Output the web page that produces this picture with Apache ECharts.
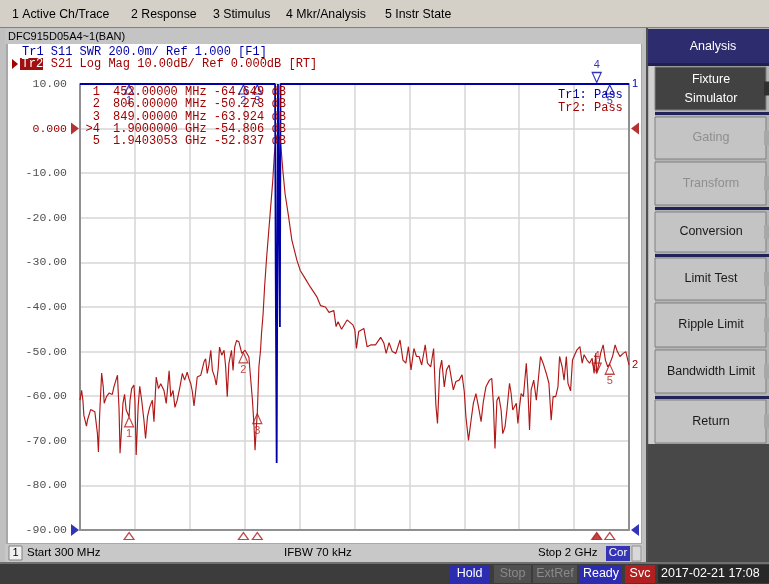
<!DOCTYPE html>
<html><head><meta charset="utf-8">
<script src="https://cdn.jsdelivr.net/npm/echarts/dist/echarts.min.js"></script>
<style>html,body{margin:0;padding:0;background:#d4d0c8;overflow:hidden}#c{width:769px;height:584px}</style>
</head><body><div id="c"></div>
<script>
// ---------------- DATA ----------------
const startMHz = 300, stopMHz = 2000, divMHz = 170;
const freqMHz = [300,305,309,312,320,323,333,346,354,357,361,367,372,375,382,390,400,405,416,421,424,429,433,438,443,452,455,460,467,470,474,480,485,491,498,503,509,516,524,529,536,543,550,560,567,576,581,588,594,601,609,617,624,632,637,643,648,653,658,663,674,684,689,694,699,705,710,717,722,728,732,739,746,751,756,761,769,774,779,785,792,801,806,811,816,823,828,834,839,842,846,849,854,859,862,867,872,878,888,897,902,907,912,916,920,923,928,935,946,956,972,982,998,1013,1034,1045,1050,1060,1071,1086,1093,1099,1110,1127,1145,1151,1156,1163,1179,1189,1200,1215,1231,1241,1248,1257,1267,1278,1291,1300,1309,1317,1325,1334,1342,1350,1358,1369,1376,1386,1395,1402,1407,1414,1420,1428,1435,1443,1449,1456,1464,1474,1483,1490,1495,1503,1511,1518,1526,1534,1542,1549,1557,1568,1575,1580,1585,1591,1597,1604,1609,1616,1622,1630,1635,1640,1645,1651,1656,1661,1666,1673,1682,1687,1692,1697,1705,1713,1726,1734,1744,1752,1759,1765,1773,1780,1785,1793,1799,1806,1811,1819,1825,1832,1839,1848,1855,1861,1870,1878,1886,1892,1897,1900,1907,1912,1920,1927,1934,1940,1949,1957,1964,1972,1982,1990,2000];
const s21dB = [-60.9,-58.7,-60.9,-64.3,-66.7,-65.4,-63.0,-63.5,-68.4,-72.5,-63.9,-54.8,-57.9,-61.6,-60.1,-59.3,-59.6,-57.9,-55.3,-63.1,-72.8,-66.9,-61.6,-59.6,-63.1,-64.6,-60.9,-58.3,-57.5,-60.9,-73.2,-62.4,-57.8,-60.9,-65.4,-69.5,-64.6,-62.4,-60.9,-65.7,-55.7,-58.3,-57.2,-58.7,-61.6,-54.3,-60.1,-58.7,-62.5,-60.9,-58.1,-54.9,-56.4,-54.6,-56.0,-57.2,-59.0,-62.2,-59.0,-55.7,-55.3,-52.3,-51.6,-54.9,-53.1,-49.7,-54.2,-55.7,-57.5,-53.8,-49.0,-50.8,-49.7,-53.4,-60.1,-52.7,-49.7,-54.2,-49.0,-47.5,-47.8,-50.4,-50.3,-49.7,-49.3,-51.2,-55.7,-60.9,-66.9,-72.1,-66.9,-63.9,-53.4,-49.7,-46.0,-41.5,-35.0,-28.8,-19.8,-11.6,-5.6,-2.5,-1.2,-1.0,-2.5,-4.8,-9.3,-14.6,-19.8,-25.0,-29.6,-31.8,-33.7,-35.5,-37.8,-39.7,-39.3,-40.0,-41.2,-40.8,-44.4,-43.3,-45.0,-42.9,-44.0,-45.1,-49.3,-45.5,-44.8,-48.9,-48.5,-48.5,-46.8,-48.1,-50.4,-48.0,-50.0,-50.4,-47.4,-51.9,-52.6,-48.9,-54.1,-49.3,-51.1,-51.1,-53.0,-48.5,-52.6,-53.4,-49.3,-62.0,-66.1,-54.1,-51.9,-57.9,-54.1,-53.0,-55.6,-58.6,-56.7,-56.4,-55.2,-59.0,-64.6,-69.9,-65.4,-61.6,-59.4,-62.4,-65.7,-61.2,-57.9,-56.4,-56.0,-61.6,-71.7,-60.9,-60.1,-63.1,-68.4,-66.9,-63.1,-57.1,-59.4,-63.1,-62.7,-61.6,-66.1,-62.4,-59.4,-60.1,-52.6,-58.6,-67.6,-58.6,-56.4,-60.9,-51.1,-52.6,-54.9,-57.1,-65.4,-60.1,-60.1,-57.9,-51.1,-53.4,-56.4,-51.1,-57.1,-58.8,-51.9,-50.7,-49.6,-48.9,-52.6,-50.7,-51.9,-52.6,-51.5,-54.9,-50.4,-54.8,-52.6,-50.4,-48.5,-51.9,-53.4,-52.8,-51.1,-48.5,-50.0,-51.1,-50.4,-50.0,-53.0];
// S11 SWR trace (values at 3.000 are at/above the top of the 1.000..3.000 scale)
const swrFreqMHz = [300,904,906,909,913,918,919,921,2000];
const s11SWR = [3.0,3.0,2.15,1.30,3.0,3.0,1.91,3.0,3.0];
// markers
const markerNo = [1,2,3,4,5];
const markerFreqMHz = [452, 806, 849, 1900, 1940.3053];
const markerS21dB = [-64.649, -50.273, -63.924, -54.806, -52.837];
const activeMarker = 4;
// dB axis ticks
const dbMin = -90, dbMax = 10, dbStep = 10;
const swrMin = 1.0, swrMax = 3.0, swrStep = 0.2;
// texts
const menuItems = ['1 Active Ch/Trace','2 Response','3 Stimulus','4 Mkr/Analysis','5 Instr State'];
const windowTitle = 'DFC915D05A4~1(BAN)';
const tr1Header = 'Tr1 S11 SWR 200.0m/ Ref 1.000 [F1]';
const tr2Name = 'Tr2';
const tr2Header = ' S21 Log Mag 10.00dB/ Ref 0.000dB [RT]';
const limitTexts = ['Tr1: Pass','Tr2: Pass'];
const statusTexts = ['1','Start 300 MHz','IFBW 70 kHz','Stop 2 GHz','Cor'];
const softkeyTitle = 'Analysis';
const softkeys = [['Fixture','Simulator'],['Gating'],['Transform'],['Conversion'],['Limit Test'],['Ripple Limit'],['Bandwidth Limit'],['Return']];
const bottomItems = ['Hold','Stop','ExtRef','Ready','Svc','2017-02-21 17:08'];

// ---------------- LAYOUT / STYLE ----------------
const MONO = "'Liberation Mono','DejaVu Sans Mono',monospace";
const SANS = "'Liberation Sans','DejaVu Sans',sans-serif";
const RED = '#a00000', TRED = '#b01818', BLUE = '#0000a8';
const GRID = {left:80, top:84, width:549, height:446};

const g = [];
function rect(x,y,w,h,fill,z,stroke){g.push({type:'rect',shape:{x,y,width:w,height:h},style:{fill,stroke:stroke||null,lineWidth:stroke?1:0},z:z===undefined?-10:z,silent:true});}
function text(t,x,y,opt){opt=opt||{};g.push({type:'text',x,y,z:opt.z===undefined?50:opt.z,silent:true,style:{text:t,fill:opt.c||'#000',fontSize:opt.s||12,fontFamily:opt.f||SANS,align:opt.a||'left',verticalAlign:'middle'}});}

// menu bar
rect(0,0,769,27,'#d4d0c8');
rect(0,27,769,1,'#808080');
const menuX=[12,131,213,286,385];
menuItems.forEach((m,i)=>text(m,menuX[i],15,{s:12.3,c:'#000'}));
// chart window frame
rect(0,28,646,536,'#c0c0c0');
rect(646,28,2,536,'#505050');
rect(5,29,638,15,'#c4c4c4');
text(windowTitle,8,37,{s:11,c:'#000'});
rect(6,44,636,500,'#a8a8a8');
rect(8,44,633,499,'#ffffff');
// status bar
rect(5,544,638,18,'#c8c8c8');
rect(9,546,13,14,'#f0f0f0',-9,'#808080');
text(statusTexts[0],15.5,553,{s:11,a:'center'});
text(statusTexts[1],27,553,{s:11.5});
text(statusTexts[2],284,553,{s:11.5});
text(statusTexts[3],538,553,{s:11.5});
rect(606,546,24,15,'#3434b4',-9);
text(statusTexts[4],618,553,{s:11.5,c:'#fff',a:'center'});
rect(632,546,9,15,'#d8d8d8',-9,'#909090');
// header texts
text(tr1Header,22,52,{f:MONO,s:12,c:BLUE});
g.push({type:'polygon',shape:{points:[[12,59],[18,64],[12,69]]},style:{fill:RED},z:50,silent:true});
rect(20,58,23,12,'#a01010',49);
text(tr2Name,21.5,64,{f:MONO,s:12,c:'#fff'});
text(tr2Header,43.6,64,{f:MONO,s:12,c:RED});
// marker table
markerNo.forEach((n,i)=>{
  const y=92+i*12.3;
  const f=markerFreqMHz[i];
  const fs = f>=1000 ? (f/1000).toFixed(7)+' GHz' : f.toFixed(5)+' MHz';
  text((n===activeMarker?'>':'')+n,100,y,{f:MONO,s:12,c:RED,a:'right',z:40});
  text(fs+' '+markerS21dB[i].toFixed(3)+' dB',113,y,{f:MONO,s:12,c:RED,z:40});
});
text(limitTexts[0],558,95,{f:MONO,s:12,c:BLUE});
text(limitTexts[1],558,108,{f:MONO,s:12,c:RED});
// right panel
rect(648,28,121,536,'#b4b4b4');
rect(648,29,121,34,'#2c2c6e');
text(softkeyTitle,713,47,{s:12.5,c:'#fff',a:'center'});
rect(648,63,121,3,'#202050');
rect(649,66,6,378,'#d0d0d0');
rect(648,444,121,120,'#484848');
const keyY=[67,117,162,212,258,303,350,400], keyH=[43,42,43,40,42,44,43,43];
const keyState=['active','dis','dis','en','en','en','en','en'];
const navyLines=[112,207,254,396];
navyLines.forEach(y=>rect(655,y,114,3,'#22225a'));
softkeys.forEach((k,i)=>{
  const st=keyState[i];
  const bg = st==='active'?'#424242':'#c4c4c4';
  rect(655,keyY[i],111,keyH[i],bg,-9,'#808080');
  rect(764,keyY[i]+keyH[i]/2-7,5,14,st==='active'?'#303030':'#a8a8a8',-8);
  const c = st==='active'?'#ffffff':(st==='dis'?'#8e8e8e':'#1a1a1a');
  const cy=keyY[i]+keyH[i]/2;
  if(k.length===2){text(k[0],711,cy-9,{s:12.5,c,a:'center'});text(k[1],711,cy+10,{s:12.5,c,a:'center'});}
  else text(k[0],711,cy,{s:12.5,c,a:'center'});
});
// bottom bar
rect(0,562,769,2,'#707070');
rect(0,564,769,20,'#3c3c3c');
const bx=[449,494,533,580,625,658], bw=[41,37,44,42,30,111];
const bbg=['#2c2cb0','#505050','#505050','#2c2cb0','#b02020','#282828'];
const bfc=['#fff','#8a8a8a','#8a8a8a','#fff','#fff','#fff'];
bottomItems.forEach((t,i)=>{
  rect(bx[i],565,bw[i],18,bbg[i],-9);
  if(i===5) text(t,661,574,{s:12.5,c:bfc[i]});
  else text(t,bx[i]+bw[i]/2,574,{s:12.5,c:bfc[i],a:'center'});
});

// ---------------- SERIES ----------------
const off = f => f - startMHz;
const s21Data = freqMHz.map((f,i)=>[off(f), s21dB[i]]);
const s11Data = swrFreqMHz.map((f,i)=>[off(f), s11SWR[i]]);
const mk = (i,y)=>({value:[off(markerFreqMHz[i]), y], name:String(markerNo[i])});
const tr2Normal = markerNo.map((n,i)=>n!==activeMarker?mk(i,markerS21dB[i]):null).filter(Boolean);
const tr2Active = markerNo.map((n,i)=>n===activeMarker?mk(i,markerS21dB[i]):null).filter(Boolean);
const tr1Normal = markerNo.map((n,i)=>n!==activeMarker?mk(i,swrMax):null).filter(Boolean);
const tr1Active = markerNo.map((n,i)=>n===activeMarker?mk(i,swrMax):null).filter(Boolean);
const axisMk = markerNo.map((n,i)=>({value:[off(markerFreqMHz[i]), dbMin], itemStyle:{color: n===activeMarker?TRED:'#ffffff'}}));
const lblNum = (c,pos)=>({show:true,formatter:'{b}',position:pos,distance:1,color:c,fontSize:11,fontFamily:SANS});

const option = {
  animation:false,
  backgroundColor:'transparent',
  graphic:{elements:g},
  grid:{left:GRID.left,top:GRID.top,width:GRID.width,height:GRID.height,containLabel:false},
  xAxis:{type:'value',min:0,max:stopMHz-startMHz,interval:divMHz,
    axisLabel:{show:false},axisTick:{show:false},
    axisLine:{show:true,onZero:false,lineStyle:{color:'#909090',width:2}},
    splitLine:{show:true,lineStyle:{color:'#d6d6d6',width:1.5}}},
  yAxis:[
    {type:'value',min:dbMin,max:dbMax,interval:dbStep,position:'left',
     axisLine:{show:true,onZero:false,lineStyle:{color:'#909090',width:2}},axisTick:{show:false},
     splitLine:{show:true,lineStyle:{color:'#d6d6d6',width:1.5}},
     axisLabel:{margin:13,fontFamily:MONO,fontSize:11.5,
       formatter:v=>Number(v)===0?'0.000':Number(v).toFixed(2),
       color:v=>Number(v)===0?RED:'#505050'}},
    {type:'value',min:swrMin,max:swrMax,interval:swrStep,position:'right',
     axisLine:{show:true,onZero:false,lineStyle:{color:'#909090',width:2}},axisTick:{show:false},
     splitLine:{show:false},axisLabel:{show:false}}
  ],
  series:[
    {type:'line',data:s21Data,yAxisIndex:0,showSymbol:false,z:3,
     lineStyle:{color:TRED,width:1.15},
     endLabel:{show:true,formatter:'2',color:RED,fontSize:11,fontFamily:SANS,distance:3}},
    {type:'line',data:s11Data,yAxisIndex:1,showSymbol:false,z:4,
     lineStyle:{color:BLUE,width:1.8},
     endLabel:{show:true,formatter:'1',color:BLUE,fontSize:11,fontFamily:SANS,distance:3}},
    {type:'scatter',data:tr2Normal,yAxisIndex:0,clip:false,z:6,symbol:'triangle',symbolSize:[9,10],symbolOffset:[0,5],
     itemStyle:{color:'rgba(255,255,255,0)',borderColor:TRED,borderWidth:1.2},label:lblNum(TRED,'bottom')},
    {type:'scatter',data:tr2Active,yAxisIndex:0,clip:false,z:6,symbol:'triangle',symbolRotate:180,symbolSize:[9,10],symbolOffset:[0,-5],
     itemStyle:{color:'rgba(255,255,255,0)',borderColor:TRED,borderWidth:1.2},label:lblNum(TRED,'top')},
    {type:'scatter',data:tr1Normal,yAxisIndex:1,clip:false,z:6,symbol:'triangle',symbolSize:[9,9],symbolOffset:[0,5.5],
     itemStyle:{color:'rgba(255,255,255,0)',borderColor:BLUE,borderWidth:1.2},label:lblNum(BLUE,'bottom')},
    {type:'scatter',data:tr1Active,yAxisIndex:1,clip:false,z:6,symbol:'triangle',symbolRotate:180,symbolSize:[9,10],symbolOffset:[0,-6.5],
     itemStyle:{color:'rgba(255,255,255,0)',borderColor:BLUE,borderWidth:1.2},label:lblNum(BLUE,'top')},
    {type:'scatter',data:axisMk,yAxisIndex:0,clip:false,z:6,symbol:'triangle',symbolSize:[10,7],symbolOffset:[0,6],
     itemStyle:{borderColor:TRED,borderWidth:1.2}},
    // reference level pointers
    {type:'scatter',yAxisIndex:0,clip:false,z:6,symbol:'triangle',symbolSize:[12,8],silent:true,
     data:[{value:[0,0],symbolRotate:-90,symbolOffset:[-5,0]},{value:[stopMHz-startMHz,0],symbolRotate:90,symbolOffset:[6,0]}],
     itemStyle:{color:RED}},
    {type:'scatter',yAxisIndex:1,clip:false,z:6,symbol:'triangle',symbolSize:[12,8],silent:true,
     data:[{value:[0,swrMin],symbolRotate:-90,symbolOffset:[-5,0]},{value:[stopMHz-startMHz,swrMin],symbolRotate:90,symbolOffset:[6,0]}],
     itemStyle:{color:BLUE}}
  ]
};
const chart = echarts.init(document.getElementById('c'));
chart.setOption(option);
</script></body></html>
